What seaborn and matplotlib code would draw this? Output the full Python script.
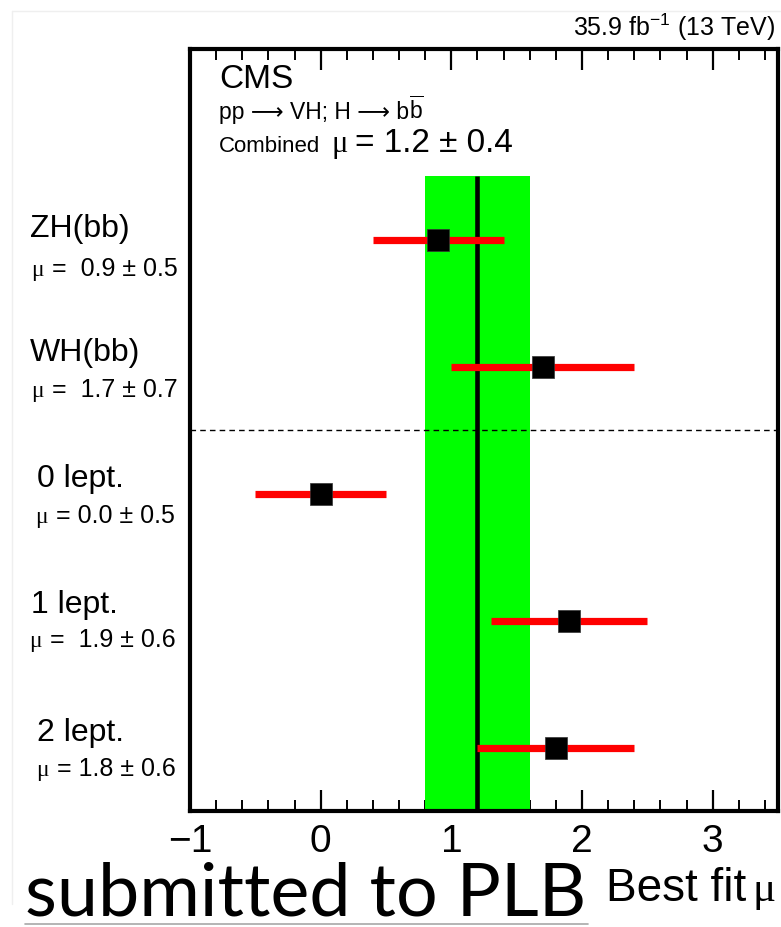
import numpy as np
import pandas as pd
import matplotlib
matplotlib.use("Agg")
import matplotlib.pyplot as plt
from matplotlib.lines import Line2D
from matplotlib.ticker import MultipleLocator
import seaborn as sns

# Signal strength per channel (best fit and symmetric uncertainty)
categories = ["ZH(bb)", "WH(bb)", "0 lept.", "1 lept.", "2 lept."]
mu_values = [0.9, 1.7, 0.0, 1.9, 1.8]
mu_errors = [0.5, 0.7, 0.5, 0.6, 0.6]
row_positions = [4.5, 3.5, 2.5, 1.5, 0.5]
combined_mu = 1.2
combined_err = 0.4
x_ticks = [-1, 0, 1, 2, 3]

W, H = 781, 928

sns.set_theme(style="white")
plt.rcParams["font.family"] = ["Liberation Sans", "DejaVu Sans"]
plt.rcParams["mathtext.fontset"] = "custom"
plt.rcParams["mathtext.rm"] = "Liberation Sans"
plt.rcParams["mathtext.it"] = "Liberation Sans:italic"
plt.rcParams["mathtext.bf"] = "Liberation Sans:bold"
plt.rcParams["axes.unicode_minus"] = True
plt.rcParams["text.color"] = "black"
plt.rcParams["xtick.color"] = "black"
plt.rcParams["xtick.labelcolor"] = "black"

SERIF = ["Liberation Serif", "DejaVu Serif"]
SANS = ["Liberation Sans", "DejaVu Sans"]

df = pd.DataFrame({"channel": categories, "mu": mu_values,
                   "err": mu_errors, "row": row_positions})

fig = plt.figure(figsize=(W / 100, H / 100), dpi=100)
fig.patch.set_facecolor("white")
ax = fig.add_axes([190 / W, 1 - 812 / H, 588 / W, 762 / H])
ax.set_facecolor("white")

# combined result: green band and central line
ax.fill_betweenx([0, 5], combined_mu - combined_err, combined_mu + combined_err,
                 color="#00ff00", lw=0, zorder=1)
ax.vlines(combined_mu, 0, 5, color="black", lw=3.3, zorder=2)

# separator between production modes and lepton channels
ax.axhline(3, color="black", lw=1.0, ls=(0, (4, 3)), zorder=2)

# per-channel uncertainties and best-fit markers
ax.hlines(df["row"], df["mu"] - df["err"], df["mu"] + df["err"],
          color="#ff0000", lw=5.2, zorder=3)
sns.scatterplot(data=df, x="mu", y="row", marker="s", s=250, color="black",
                edgecolor="#333333", linewidth=0.5, zorder=4, ax=ax, legend=False)

ax.set_xlim(-1, 3.5)
ax.set_ylim(0, 6)
ax.set_xticks(x_ticks)
ax.xaxis.set_minor_locator(MultipleLocator(0.2))
ax.set_yticks([])
ax.set_xlabel("")
ax.set_ylabel("")
ax.tick_params(axis="x", which="major", direction="in", top=True, bottom=True,
               length=15, width=1.6, labelsize=28, pad=9, color="black")
ax.tick_params(axis="x", which="minor", direction="in", top=True, bottom=True,
               length=8, width=1.4, color="black")
for sp in ax.spines.values():
    sp.set_visible(True)
    sp.set_linewidth(3)
    sp.set_color("black")


def fpos(x, y):
    return x / W, 1 - y / H


# header texts
fig.text(*fpos(775, 36), r"35.9 fb$^{-1}$ (13 TeV)", ha="right", va="baseline",
         fontsize=18)
fig.text(*fpos(219, 88), "CMS", ha="left", va="baseline", fontsize=24)

# process line: plain text with long arrows, then the anti-b with its bar
proc = fig.text(*fpos(219, 119), "pp ⟶ VH; H ⟶ b", ha="left",
                va="baseline", fontsize=16.5, family=SANS)
fig.canvas.draw()
proc_right = proc.get_window_extent(fig.canvas.get_renderer()).x1
fig.text(proc_right / W, 1 - 119 / H, r"$\overline{\mathrm{b}}$", ha="left",
         va="baseline", fontsize=16.5)

fig.text(*fpos(219, 152), "Combined", ha="left", va="baseline", fontsize=16)
fig.text(*fpos(331, 152), "μ", ha="left", va="baseline", fontsize=22,
         family=SERIF)
fig.text(*fpos(355, 152), f"= {combined_mu:.1f} ± {combined_err:.1f}",
         ha="left", va="baseline", fontsize=24)

# channel labels on the left
name_x = [30, 30, 37, 31, 37]
name_y = [237, 361, 487, 613, 741]
mu_x = [31, 31, 35, 29, 36]
mu_y = [276, 397, 523, 647, 776]
gaps = ["  ", "  ", " ", "  ", " "]
for i, name in enumerate(categories):
    fig.text(*fpos(name_x[i], name_y[i]), name, ha="left", va="baseline",
             fontsize=23)
    fig.text(*fpos(mu_x[i], mu_y[i]), "μ", ha="left", va="baseline",
             fontsize=17, family=SERIF)
    fig.text(*fpos(mu_x[i] + 14, mu_y[i]),
             f" ={gaps[i]}{mu_values[i]:.1f} ± {mu_errors[i]:.1f}",
             ha="left", va="baseline", fontsize=18)

# axis title
fig.text(*fpos(746, 901), "Best fit", ha="right", va="baseline", fontsize=33)
fig.text(*fpos(753, 901), "μ", ha="left", va="baseline", fontsize=31,
         family=SERIF)

# journal stamp
fig.text(*fpos(25, 916), "submitted to PLB", ha="left", va="baseline",
         fontsize=53, family=["Lato", "DejaVu Sans"])
fig.add_artist(Line2D([25 / W, 588 / W], [1 - 925 / H, 1 - 925 / H],
                      color="#a8a8a8", lw=1.2))

# light page frame
fig.add_artist(Line2D([12 / W, 1.0], [1 - 12 / H, 1 - 12 / H],
                      color="#efefef", lw=1.0))
fig.add_artist(Line2D([12 / W, 12 / W], [1 - 12 / H, 1 - 905 / H],
                      color="#efefef", lw=1.0))

fig.savefig("out.png", dpi=100, facecolor="white")
